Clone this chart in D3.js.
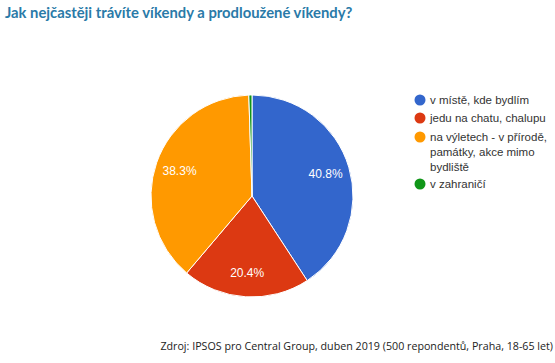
<!DOCTYPE html>
<html>
<head>
<meta charset="utf-8">
<script src="https://cdn.jsdelivr.net/npm/d3@7"></script>
<style>
  html, body { margin: 0; padding: 0; background: #fff; }
  svg { display: block; }
</style>
</head>
<body>
<svg id="chart" width="555" height="363"></svg>
<script>
// ---- Data ----
const categories = [
  'v místě, kde bydlím',
  'jedu na chatu, chalupu',
  'na výletech - v přírodě, památky, akce mimo bydliště',
  'v zahraničí'
];
const values = [40.8, 20.4, 38.3, 0.5];
const colors = ['#3366cc', '#dc3912', '#ff9900', '#109618'];
// wrapped legend lines
const legendLines = [
  ['v místě, kde bydlím'],
  ['jedu na chatu, chalupu'],
  ['na výletech - v přírodě,', 'památky, akce mimo', 'bydliště'],
  ['v zahraničí']
];

const WIDTH = 555, HEIGHT = 363;
const cx = 252, cy = 196, R = 101;

const svg = d3.select('#chart');

// ---- Title ----
svg.append('text')
  .attr('x', 5)
  .attr('y', 18)
  .attr('font-family', 'Lato, sans-serif')
  .attr('font-weight', 'bold')
  .attr('font-size', '14.8px')
  .attr('fill', '#2a7aa8')
  .text('Jak nejčastěji trávíte víkendy a prodloužené víkendy?');

// ---- Pie ----
const data = categories.map((c, i) => ({ name: c, value: values[i], color: colors[i] }));
const pie = d3.pie().value(d => d.value).sort(null);
const arcs = pie(data);
const arc = d3.arc().innerRadius(0).outerRadius(R);
const labelArc = d3.arc().innerRadius(R * 0.76).outerRadius(R * 0.76);

const g = svg.append('g').attr('transform', `translate(${cx},${cy})`);

g.selectAll('path.slice')
  .data(arcs)
  .join('path')
  .attr('class', 'slice')
  .attr('d', arc)
  .attr('fill', d => d.data.color)
  .attr('stroke', '#fff')
  .attr('stroke-width', 1);

g.selectAll('text.pct')
  .data(arcs.filter(d => d.data.value >= 5))
  .join('text')
  .attr('class', 'pct')
  .attr('transform', d => `translate(${labelArc.centroid(d)})`)
  .attr('text-anchor', 'middle')
  .attr('dy', '0.35em')
  .attr('font-family', 'Arial, "Liberation Sans", sans-serif')
  .attr('font-size', '12px')
  .attr('fill', '#fff')
  .text(d => d.data.value.toFixed(1) + '%');

// ---- Legend ----
const legendY = [100, 118, 137, 184];
const legend = svg.append('g');
const items = legend.selectAll('g.item')
  .data(data)
  .join('g')
  .attr('class', 'item')
  .attr('transform', (d, i) => `translate(420,${legendY[i]})`);

items.append('circle')
  .attr('r', 5.5)
  .attr('fill', d => d.color);

items.append('text')
  .attr('x', 10)
  .attr('font-family', 'Arial, "Liberation Sans", sans-serif')
  .attr('font-size', '11.5px')
  .attr('fill', '#333')
  .each(function(d, i) {
    d3.select(this).selectAll('tspan')
      .data(legendLines[i])
      .join('tspan')
      .attr('x', 10)
      .attr('dy', (t, j) => j === 0 ? '0.35em' : '15px')
      .text(t => t);
  });

// ---- Source ----
svg.append('text')
  .attr('x', 553)
  .attr('y', 350)
  .attr('text-anchor', 'end')
  .attr('font-family', '"Open Sans", sans-serif')
  .attr('font-size', '10.7px')
  .attr('fill', '#222')
  .text('Zdroj: IPSOS pro Central Group, duben 2019 (500 repondentů, Praha, 18-65 let)');
</script>
</body>
</html>
